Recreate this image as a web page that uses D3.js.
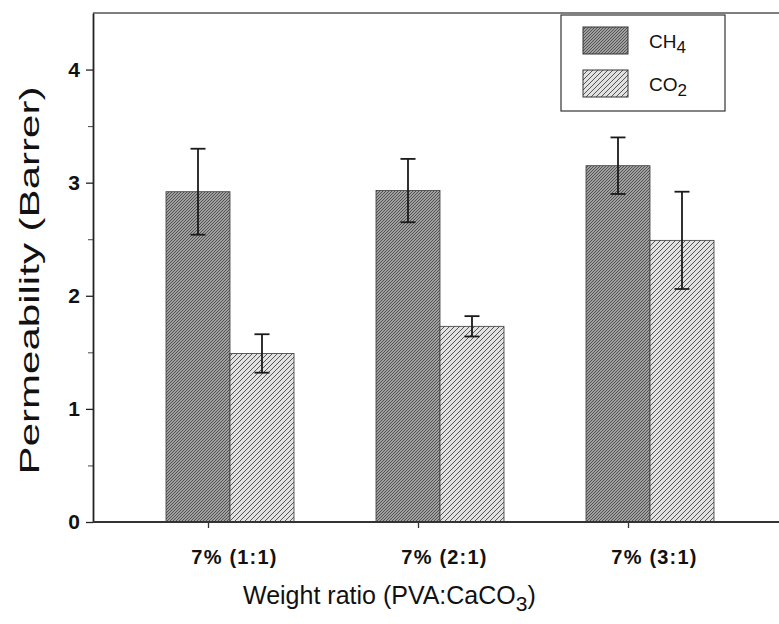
<!DOCTYPE html>
<html>
<head>
<meta charset="utf-8">
<script src="https://cdn.jsdelivr.net/npm/d3@7"></script>
<style>
  body { margin: 0; background: #fff; }
  svg { display: block; font-family: "Liberation Sans", Arial, sans-serif; }
</style>
</head>
<body>
<svg id="chart" width="779" height="624"></svg>
<script>
// data
const categories = ['7% (1:1)', '7% (2:1)', '7% (3:1)'];
const series = ['CH4', 'CO2'];
const ch4Values = [2.92, 2.93, 3.15];
const ch4Errors = [0.38, 0.28, 0.25];
const co2Values = [1.49, 1.73, 2.49];
const co2Errors = [0.17, 0.09, 0.43];
const yTicks = [0, 1, 2, 3, 4];
const yMinorTicks = [0.5, 1.5, 2.5, 3.5];

const width = 779, height = 624;
const margin = { top: 13, right: 0, bottom: 102, left: 93 };
const svg = d3.select('#chart');
const font = '"Liberation Sans", Arial, sans-serif';

const y = d3.scaleLinear([0, 4.5], [height - margin.bottom, margin.top]);
const x = d3.scalePoint(categories, [208, 628]);   // tick positions on the axis
const xs = d3.scaleBand(series, [0, 128]);          // bars inside one group
const groupShift = -42;                             // bars sit right of the tick

const rows = categories.map((c, i) => ({
  cat: c,
  vals: [
    { s: 'CH4', v: ch4Values[i], e: ch4Errors[i] },
    { s: 'CO2', v: co2Values[i], e: co2Errors[i] }
  ]
}));

// hatch patterns
const defs = svg.append('defs');
const ch4Pat = defs.append('pattern')
  .attr('id', 'hatch-ch4')
  .attr('patternUnits', 'userSpaceOnUse')
  .attr('width', 3).attr('height', 3);
ch4Pat.append('rect').attr('width', 3).attr('height', 3).attr('fill', '#a0a0a0');
ch4Pat.append('path').attr('d', 'M-1,1 l2,-2 M0,3 l3,-3 M2,4 l2,-2')
  .attr('stroke', '#4a4a4a').attr('stroke-width', 0.9);

const co2Pat = defs.append('pattern')
  .attr('id', 'hatch-co2')
  .attr('patternUnits', 'userSpaceOnUse')
  .attr('width', 5).attr('height', 5);
co2Pat.append('rect').attr('width', 5).attr('height', 5).attr('fill', '#e2e2e2');
co2Pat.append('path').attr('d', 'M-1,1 l2,-2 M0,5 l5,-5 M4,6 l2,-2')
  .attr('stroke', '#555').attr('stroke-width', 1);

const fillOf = s => s === 'CH4' ? 'url(#hatch-ch4)' : 'url(#hatch-co2)';

// top frame line
svg.append('line')
  .attr('x1', margin.left).attr('x2', width)
  .attr('y1', margin.top).attr('y2', margin.top)
  .attr('stroke', '#555').attr('stroke-width', 1.5);

// bars
const groups = svg.append('g').selectAll('g')
  .data(rows)
  .join('g')
  .attr('transform', d => `translate(${x(d.cat) + groupShift},0)`);

groups.selectAll('rect')
  .data(d => d.vals)
  .join('rect')
  .attr('x', d => xs(d.s))
  .attr('width', xs.bandwidth())
  .attr('y', d => y(d.v))
  .attr('height', d => y(0) - y(d.v))
  .attr('fill', d => fillOf(d.s))
  .attr('stroke', '#3a3a3a')
  .attr('stroke-width', 0.8);

// error bars
const errG = groups.selectAll('g.err')
  .data(d => d.vals)
  .join('g')
  .attr('class', 'err')
  .attr('stroke', '#1a1a1a')
  .attr('stroke-width', 1.8);
const cx = d => xs(d.s) + xs.bandwidth() / 2;
errG.append('line')
  .attr('x1', cx).attr('x2', cx)
  .attr('y1', d => y(d.v + d.e)).attr('y2', d => y(d.v - d.e));
errG.append('line')
  .attr('x1', d => cx(d) - 7.5).attr('x2', d => cx(d) + 7.5)
  .attr('y1', d => y(d.v + d.e)).attr('y2', d => y(d.v + d.e));
errG.append('line')
  .attr('x1', d => cx(d) - 7.5).attr('x2', d => cx(d) + 7.5)
  .attr('y1', d => y(d.v - d.e)).attr('y2', d => y(d.v - d.e));

// y axis
svg.append('g')
  .attr('transform', `translate(${margin.left},0)`)
  .call(d3.axisLeft(y).tickValues(yMinorTicks).tickSize(5).tickFormat(''))
  .call(g => g.select('.domain').remove())
  .call(g => g.selectAll('.tick line').attr('stroke', '#444'));

svg.append('g')
  .attr('transform', `translate(${margin.left},0)`)
  .call(d3.axisLeft(y).tickValues(yTicks).tickFormat(d3.format('d'))
    .tickSize(7).tickPadding(6).tickSizeOuter(0))
  .call(g => g.select('.domain').attr('stroke', '#222').attr('stroke-width', 1.8))
  .call(g => g.selectAll('.tick line').attr('stroke', '#222').attr('stroke-width', 1.3))
  .call(g => g.selectAll('.tick text')
    .attr('font-size', 21).attr('font-weight', 700).attr('fill', '#111')
    .attr('font-family', font));

// x axis
svg.append('line')
  .attr('x1', margin.left).attr('x2', width)
  .attr('y1', y(0)).attr('y2', y(0))
  .attr('stroke', '#333').attr('stroke-width', 1.8);

svg.append('g')
  .attr('transform', `translate(0,${y(0)})`)
  .call(d3.axisBottom(x).tickSize(6).tickPadding(22).tickSizeOuter(0))
  .call(g => g.select('.domain').remove())
  .call(g => g.selectAll('.tick line').attr('stroke', '#333').attr('stroke-width', 1.3))
  .call(g => g.selectAll('.tick text')
    .attr('dx', 26)
    .attr('font-size', 20).attr('font-weight', 700).attr('fill', '#111')
    .attr('font-family', font)
    .attr('letter-spacing', 1.2));

// y title: the scan is stretched along this text, so scale it to the measured length
const yTitle = svg.append('text')
  .attr('text-anchor', 'middle')
  .attr('font-size', 27)
  .attr('fill', '#111')
  .text('Permeability (Barrer)');
const yLen = yTitle.node().getComputedTextLength();
yTitle.attr('transform',
  `translate(39,${(margin.top + y(0)) / 2 + 13}) rotate(-90) scale(${388 / yLen},1)`);

const xTitle = svg.append('text')
  .attr('x', 243).attr('y', 604)
  .attr('font-size', 25)
  .attr('fill', '#111');
xTitle.append('tspan').text('Weight ratio (PVA:CaCO');
xTitle.append('tspan').attr('dy', 7).attr('font-size', 21).text('3');
xTitle.append('tspan').attr('dy', -7).text(')');

// legend
const legend = svg.append('g').attr('transform', 'translate(561,15)');
legend.append('rect')
  .attr('width', 164).attr('height', 96)
  .attr('fill', '#fff').attr('stroke', '#333').attr('stroke-width', 1.2);
const items = legend.selectAll('g.item')
  .data(series)
  .join('g')
  .attr('class', 'item')
  .attr('transform', (d, i) => `translate(22,${12 + i * 43})`);
items.append('rect')
  .attr('width', 45).attr('height', 27)
  .attr('fill', d => fillOf(d))
  .attr('stroke', '#333').attr('stroke-width', 1);
items.each(function(d) {
  const t = d3.select(this).append('text')
    .attr('x', 66).attr('y', 21)
    .attr('font-size', 19).attr('fill', '#111');
  t.append('tspan').text(d.slice(0, -1));
  t.append('tspan').attr('dy', 5).attr('font-size', 17).text(d.slice(-1));
});
</script>
</body>
</html>
